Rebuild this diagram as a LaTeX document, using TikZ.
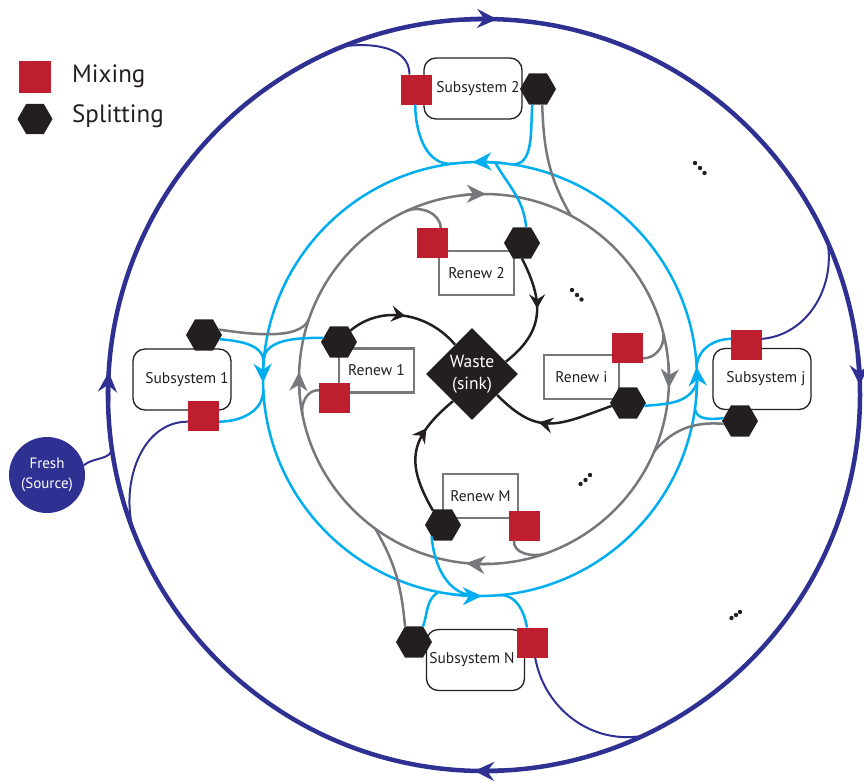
\documentclass[tikz,border=0pt]{standalone}
\usepackage{fontspec}
\setmainfont{PT Sans}
\usetikzlibrary{shapes.geometric,arrows.meta,decorations.markings,calc}
\definecolor{navy}{RGB}{46,49,146}
\definecolor{skyc}{RGB}{0,174,239}
\definecolor{grayc}{RGB}{119,120,123}
\definecolor{redm}{RGB}{190,30,45}
\definecolor{blk}{RGB}{35,31,32}
\newcommand{\fSub}{\fontsize{15.5pt}{18pt}\selectfont}
\newcommand{\fLeg}{\fontsize{25pt}{30pt}\selectfont}
\begin{document}
\begin{tikzpicture}[x=1pt,y=1pt,
  navyw/.style={draw=navy, line width=4.5pt},
  navythin/.style={draw=navy, line width=2pt},
  cyanl/.style={draw=skyc, line width=2.5pt},
  grayl/.style={draw=grayc, line width=2.5pt},
  blackl/.style={draw=blk, line width=2.5pt},
  bigtip/.style={-{Stealth[length=20pt,width=19pt,inset=7pt]}},
  midtip/.style={-{Stealth[length=19pt,width=18pt,inset=6pt]}},
  midarrow/.style={postaction={decorate}, decoration={markings, mark=at position #1 with {\arrow{Stealth[length=14pt,width=16pt,inset=5pt]}}}},
  mixer/.style={fill=redm, draw=none, minimum width=31pt, minimum height=30pt, inner sep=0pt, outer sep=0pt},
  splitter/.style={regular polygon, regular polygon sides=6, fill=blk, draw=none, minimum size=36pt, inner sep=0pt, outer sep=0pt},
  subbox/.style={draw=blk, line width=1.3pt, rounded corners=12pt, fill=white, minimum width=98pt, minimum height=61pt, inner sep=0pt, font=\fSub, text=blk},
  renbox/.style={draw=grayc, line width=2.5pt, fill=white, minimum width=75pt, minimum height=44pt, inner sep=0pt, font=\fSub, text=blk},
  dotc/.style={fill=blk}
]
\useasboundingbox (0,0) rectangle (864,-782);
\coordinate (Co) at (484,-395);
\coordinate (Cc) at (480,-379);
\coordinate (Cg) at (484,-379);

% main loops
\draw[navyw] (Co) circle[radius=376];
\draw[cyanl] (Cc) circle[radius=217];
\draw[grayl] (Cg) circle[radius=185];

% loop arrows
\draw[navyw, bigtip] ($(Co)+(93:376)$) arc[start angle=93, end angle=88, radius=376];
\draw[navyw, bigtip] ($(Co)+(6:376)$) arc[start angle=6, end angle=1.5, radius=376];
\draw[navyw, bigtip] ($(Co)+(273:376)$) arc[start angle=273, end angle=268.5, radius=376];
\draw[navyw, bigtip] ($(Co)+(181:376)$) arc[start angle=181, end angle=176.5, radius=376];

\draw[cyanl, midtip] ($(Cc)+(84:217)$) arc[start angle=84, end angle=92, radius=217];
\draw[cyanl, midtip] ($(Cc)+(173:217)$) arc[start angle=173, end angle=181, radius=217];
\draw[cyanl, midtip] ($(Cc)+(262:217)$) arc[start angle=262, end angle=270.5, radius=217];
\draw[cyanl, midtip] ($(Cc)+(-5:217)$) arc[start angle=-5, end angle=3.2, radius=217];

\draw[grayl, midtip] ($(Cg)+(97:185)$) arc[start angle=97, end angle=89.4, radius=185];
\draw[grayl, midtip] ($(Cg)+(185:185)$) arc[start angle=185, end angle=177.8, radius=185];
\draw[grayl, midtip] ($(Cg)+(5:185)$) arc[start angle=5, end angle=-2.8, radius=185];
\draw[grayl, midtip] ($(Cg)+(272:185)$) arc[start angle=272, end angle=264.4, radius=185];

% junction points on the loops
\coordinate (jo2) at ($(Co)+(112:376)$);
\coordinate (jo1) at ($(Co)+(201:376)$);
\coordinate (jof) at ($(Co)+(188:376)$);
\coordinate (joj) at ($(Co)+(24:376)$);
\coordinate (joN) at ($(Co)+(-65:376)$);

\coordinate (jc2a) at ($(Cc)+(97:217)$);
\coordinate (jc2b) at ($(Cc)+(82:217)$);
\coordinate (jc2c) at ($(Cc)+(86:217)$);
\coordinate (jc1) at ($(Cc)+(176:217)$);
\coordinate (jc1b) at ($(Cc)+(183:217)$);
\coordinate (jcj) at ($(Cc)+(3:217)$);
\coordinate (jcj2) at ($(Cc)+(-8:217)$);
\coordinate (jci) at ($(Cc)+(-1:217)$);
\coordinate (jcN) at ($(Cc)+(259:217)$);
\coordinate (jcN2) at ($(Cc)+(275:217)$);
\coordinate (jcM) at ($(Cc)+(269:217)$);

\coordinate (jg2) at ($(Cg)+(62:185)$);
\coordinate (jg2r) at ($(Cg)+(115:185)$);
\coordinate (jg1) at ($(Cg)+(161:185)$);
\coordinate (jg1r) at ($(Cg)+(191:185)$);
\coordinate (jgj) at ($(Cg)+(-23:185)$);
\coordinate (jgi) at ($(Cg)+(14:185)$);
\coordinate (jgN) at ($(Cg)+(234:185)$);
\coordinate (jgM) at ($(Cg)+(-71:185)$);

% boxes
\node[subbox] (sub1) at (182,-379.5) {\hspace*{10pt}Subsystem 1};
\node[subbox] (sub2) at (473,-88.5) {\hspace*{10pt}Subsystem 2};
\node[subbox] (subj) at (762,-379) {\hspace*{8pt}Subsystem j};
\node[subbox] (subN) at (475.5,-660) {Subsystem N\hspace*{7pt}};

\node[renbox] (ren1) at (376.5,-370.5) {Renew 1};
\node[renbox] (ren2) at (476.5,-273) {Renew 2};
\node[renbox] (reni) at (581.5,-377) {Renew i};
\node[renbox] (renM) at (480.5,-496) {Renew M};

% mixers and splitters
\node[mixer] (s1m) at (203.5,-416) {};
\node[splitter] (s1h) at (204,-335) {};
\node[mixer] (s2m) at (416.5,-89.5) {};
\node[splitter] (s2h) at (538,-89) {};
\node[mixer] (sjm) at (746.5,-344.5) {};
\node[splitter] (sjh) at (740,-421) {};
\node[splitter] (sNh) at (414,-642) {};
\node[mixer] (sNm) at (532.5,-642.5) {};
\node[splitter] (r1h) at (339,-342) {};
\node[mixer] (r1m) at (334.5,-397.5) {};
\node[mixer] (r2m) at (432,-243) {};
\node[splitter] (r2h) at (522,-243) {};
\node[mixer] (rim) at (627.5,-347.5) {};
\node[splitter] (rih) at (628,-403) {};
\node[splitter] (rMh) at (443,-525) {};
\node[mixer] (rMm) at (524.5,-525.5) {};

% sink and source
\node[diamond, fill=blk, minimum width=92pt, minimum height=92pt, inner sep=0pt, text=white, align=center, font=\fontsize{17.5pt}{22pt}\selectfont] (waste) at (472,-374) {Waste\\(sink)};
\node[circle, fill=navy, minimum size=76pt, inner sep=0pt, text=white, align=center, font=\fontsize{15pt}{20pt}\selectfont] (fresh) at (47,-475) {Fresh\\(Source)};

% navy branches
\draw[navythin] (jo2) to[out=8, in=90] (s2m.115);
\draw[navythin] (s1m.200) to[out=180, in=105] (jo1);
\draw[navythin] (fresh.15) to[out=40, in=275] (jof);
\draw[navythin] (sjm.20) to[out=5, in=-80] (joj);
\draw[navythin] (sNm.-80) to[out=-80, in=190] (joN);

% cyan branches
\draw[cyanl] (s2m.265) to[out=-90, in=187] (jc2a);
\draw[cyanl] (s2h.250) to[out=-95, in=-8] (jc2b);
\draw[cyanl] (r2h.75) to[out=95, in=-60] (jc2c);
\draw[cyanl] (s1h.-15) to[out=-5, in=85] (jc1);
\draw[cyanl] (r1h.165) to[out=180, in=95] (jc1);
\draw[cyanl] (s1m.-20) to[out=0, in=-90] (jc1b);
\draw[cyanl] (sjm.160) to[out=180, in=90] (jcj);
\draw[cyanl] (sjh.170) to[out=185, in=-80] (jcj2);
\draw[cyanl] (rih.-10) to[out=5, in=250] (jci);
\draw[cyanl] (sNh.60) to[out=70, in=210] (jcN);
\draw[cyanl] (sNm.110) to[out=100, in=5] (jcN2);
\draw[cyanl] (rMh.225) to[out=-85, in=178] (jcM);

% gray branches
\draw[grayl] (s2h.285) to[out=-88, in=120] (jg2);
\draw[grayl] (jg2r) to[out=25, in=90] (r2m.60);
\draw[grayl] (s1h.20) to[out=-8, in=250, looseness=0.7] (jg1);
\draw[grayl] (r1m.155) to[out=175, in=100] (jg1r);
\draw[grayl] (sjh.190) to[out=175, in=50] (jgj);
\draw[grayl] (rim.-35) to[out=0, in=-85] (jgi);
\draw[grayl] (sNh.120) to[out=95, in=-60] (jgN);
\draw[grayl] (rMm.235) to[out=-95, in=195] (jgM);

% black flows to the sink
\draw[blackl, midarrow=0.5] (r1h.45) to[out=40, in=130] (waste.120);
\draw[blackl, midarrow=0.45] (r2h.south) to[out=-63, in=38, looseness=1.2] (waste.20);
\draw[blackl, midarrow=0.6] (rih.190) to[out=200, in=-45, looseness=1.3] (waste.-40);
\draw[blackl, midarrow=0.7] (rMh.125) to[out=120, in=220, looseness=1.3] (waste.235);

% ellipses
\foreach \p in {(695,-163),(700,-168),(704.5,-173),(572,-290),(577,-295),(581.5,-299.5),(580.5,-484),(585.5,-480),(590,-475),(731.5,-618),(736,-615),(740,-612)}
  \fill[dotc] \p circle[radius=2.2];

% legend
\node[mixer, minimum width=32pt, minimum height=32pt] (legm) at (35,-77) {};
\node[splitter, minimum size=35pt] (legs) at (35,-119) {};
\node[anchor=west, inner sep=0pt, font=\fLeg, text=blk] (legmt) at (72,-76) {Mixing};
\node[anchor=west, inner sep=0pt, font=\fLeg, text=blk] (legst) at (72,-116) {Splitting};
\end{tikzpicture}
\end{document}
